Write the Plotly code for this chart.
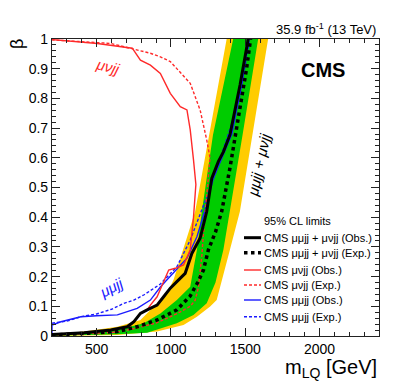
import plotly.graph_objects as go

# ---- data (m_LQ in GeV, beta) ----
yel_lo_m = [200, 416, 640, 795, 907, 974, 1018, 1083, 1163, 1193, 1258, 1375]
yel_lo_b = [0.006, 0.015, 0.031, 0.054, 0.110, 0.144, 0.189, 0.29, 0.419, 0.5, 0.677, 1.0]
yel_hi_m = [200, 640, 907, 1085, 1175, 1264, 1308, 1397, 1464, 1491, 1549, 1654]
yel_hi_b = [0.0, 0.003, 0.015, 0.037, 0.065, 0.099, 0.121, 0.29, 0.419, 0.5, 0.677, 1.0]

grn_lo_m = [200, 416, 640, 817, 929, 1040, 1130, 1175, 1208, 1231, 1283, 1419]
grn_lo_b = [0.004, 0.010, 0.020, 0.043, 0.076, 0.121, 0.166, 0.29, 0.419, 0.5, 0.677, 1.0]
grn_hi_m = [200, 640, 840, 1040, 1152, 1241, 1300, 1353, 1397, 1424, 1482, 1587]
grn_hi_b = [0.001, 0.006, 0.011, 0.043, 0.071, 0.110, 0.18, 0.29, 0.419, 0.5, 0.677, 1.0]

comb_exp_m = [200, 640, 773, 907, 1040, 1130, 1180, 1219, 1252, 1300, 1342, 1397, 1453, 1509, 1536]
comb_exp_b = [0.003, 0.015, 0.031, 0.054, 0.088, 0.135, 0.18, 0.222, 0.29, 0.35, 0.42, 0.565, 0.733, 0.90, 1.0]

comb_obs_m = [200, 416, 595, 706, 751, 795, 840, 907, 951, 996, 1040, 1096, 1141, 1197, 1241, 1275,
              1319, 1353, 1397, 1465, 1520]
comb_obs_b = [0.005, 0.011, 0.02, 0.031, 0.048, 0.076, 0.088, 0.104, 0.132, 0.161, 0.183, 0.211, 0.278,
              0.33, 0.419, 0.531, 0.587, 0.62, 0.677, 0.845, 1.0]

munu_obs_m = [200, 416, 595, 706, 751, 795, 840, 862, 907, 950, 985, 1029, 1085, 1130, 1152, 1168, 1160,
              1152, 1130, 1108, 1063, 996, 929, 862, 795, 740, 505, 200]
munu_obs_b = [0.005, 0.011, 0.02, 0.031, 0.048, 0.076, 0.088, 0.104, 0.132, 0.18, 0.222, 0.228, 0.239,
              0.29, 0.40, 0.51, 0.56, 0.593, 0.694, 0.761, 0.772, 0.817, 0.884, 0.912, 0.929, 0.969,
              0.985, 0.998]

munu_exp_m = [200, 640, 773, 907, 1040, 1130, 1163, 1186, 1197, 1208, 1219, 1241, 1258, 1263, 1241, 1197,
              1130, 1060, 996, 929, 862, 595, 200]
munu_exp_b = [0.003, 0.013, 0.027, 0.045, 0.075, 0.10, 0.12, 0.166, 0.22, 0.27, 0.346, 0.48, 0.56, 0.60,
              0.66, 0.76, 0.851, 0.89, 0.924, 0.94, 0.952, 0.985, 0.997]

mumu_obs_m = [200, 200, 260, 394, 500, 640, 773, 862, 929, 1040, 1108, 1175, 1230, 1285, 1360, 1410, 1475, 1525]
mumu_obs_b = [0.0, 0.037, 0.048, 0.065, 0.068, 0.071, 0.093, 0.121, 0.165, 0.225, 0.262, 0.334, 0.424,
              0.53, 0.62, 0.68, 0.845, 1.0]

mumu_exp_m = [200, 300, 394, 505, 600, 684, 751, 817, 929, 1040, 1130, 1197, 1250, 1300, 1400, 1460, 1530]
mumu_exp_b = [0.043, 0.05, 0.065, 0.075, 0.09, 0.110, 0.121, 0.138, 0.175, 0.233, 0.323, 0.407, 0.48,
              0.55, 0.70, 0.80, 1.0]

legend_labels = ["CMS μμjj + μνjj (Obs.)", "CMS μμjj + μνjj (Exp.)", "CMS μνjj (Obs.)",
                 "CMS μνjj (Exp.)", "CMS μμjj (Obs.)", "CMS μμjj (Exp.)"]

YELLOW = "#ffcc00"
GREEN = "#00cc00"
RED = "#ff2a2a"
BLUE = "#1a1aff"
FONT = "Liberation Sans, Arial, sans-serif"

fig = go.Figure()

# bands
fig.add_trace(go.Scatter(x=yel_lo_m + yel_hi_m[::-1], y=yel_lo_b + yel_hi_b[::-1], fill="toself",
                         fillcolor=YELLOW, line=dict(width=0), mode="lines", showlegend=False, hoverinfo="skip"))
fig.add_trace(go.Scatter(x=grn_lo_m + grn_hi_m[::-1], y=grn_lo_b + grn_hi_b[::-1], fill="toself",
                         fillcolor=GREEN, line=dict(width=0), mode="lines", showlegend=False, hoverinfo="skip"))

styles = [
    (mumu_exp_m, mumu_exp_b, BLUE, 1.4, "3px,2px"),
    (mumu_obs_m, mumu_obs_b, BLUE, 1.4, "solid"),
    (munu_exp_m, munu_exp_b, RED, 1.4, "3px,2px"),
    (munu_obs_m, munu_obs_b, RED, 1.4, "solid"),
    (comb_exp_m, comb_exp_b, "black", 3.5, "dot"),
    (comb_obs_m, comb_obs_b, "black", 3, "solid"),
]
for mx, by, c, w, d in styles:
    fig.add_trace(go.Scatter(x=mx, y=by, mode="lines", line=dict(color=c, width=w, dash=d),
                             showlegend=False, hoverinfo="skip"))

# page offset (browser body margin)
OFF = 8
W, H = 399 - OFF, 387 - OFF
# plot area in window pixels
L, R, T, B = 52, 379, 39, 336

def px(xp):
    return (xp - L) / (R - L)

def py(yp):
    return (B - yp) / (B - T)

rows = [237.7, 252.7, 270, 285, 300, 316.7]
leg_styles = [("black", 3, "solid"), ("black", 3.5, "dot"), (RED, 1.4, "solid"),
              (RED, 1.4, "3px,2px"), (BLUE, 1.4, "solid"), (BLUE, 1.4, "3px,2px")]
for r, lab, (c, w, d) in zip(rows, legend_labels, leg_styles):
    fig.add_shape(type="line", xref="paper", yref="paper", x0=px(244), x1=px(261), y0=py(r), y1=py(r),
                  line=dict(color=c, width=w, dash=d))
    fig.add_annotation(xref="paper", yref="paper", x=px(262), y=py(r), text=lab, showarrow=False,
                       xanchor="left", yanchor="middle", font=dict(family=FONT, size=11, color="black"))
fig.add_annotation(xref="paper", yref="paper", x=px(262), y=py(221), text="95% CL limits", showarrow=False,
                   xanchor="left", yanchor="middle", font=dict(family=FONT, size=11, color="black"))

# ---- text ----
fig.add_annotation(xref="paper", yref="paper", x=px(323), y=py(70), text="<b>CMS</b>", showarrow=False,
                   xanchor="center", yanchor="middle", font=dict(family=FONT, size=20, color="black"))
fig.add_annotation(xref="paper", yref="paper", x=px(378), y=py(29), text="35.9 fb<sup>-1</sup> (13 TeV)",
                   showarrow=False, xanchor="right", yanchor="middle",
                   font=dict(family=FONT, size=13, color="black"))
fig.add_annotation(xref="paper", yref="paper", x=px(379), y=py(368), text="m<sub>LQ</sub> [GeV]",
                   showarrow=False, xanchor="right", yanchor="middle",
                   font=dict(family=FONT, size=20, color="black"))
fig.add_annotation(xref="paper", yref="paper", x=px(17), y=py(44), text="β", textangle=-90,
                   showarrow=False, xanchor="center", yanchor="middle",
                   font=dict(family=FONT, size=18, color="black"))
fig.add_annotation(x=578, y=0.909, text="<i>μνjj</i>", textangle=15, showarrow=False,
                   font=dict(family=FONT, size=15, color=RED))
fig.add_annotation(x=599, y=0.162, text="<i>μμjj</i>", textangle=-28, showarrow=False,
                   font=dict(family=FONT, size=15, color=BLUE))
fig.add_annotation(x=1594, y=0.576, text="<i>μμjj + μνjj</i>", textangle=-78, showarrow=False,
                   font=dict(family=FONT, size=15, color="black"))

axis_common = dict(ticks="inside", mirror="ticks", showline=True, linecolor="#222", linewidth=1.2,
                   tickcolor="#222", ticklen=8, tickwidth=1, showgrid=False, zeroline=False,
                   automargin=False, tickfont=dict(family=FONT, size=14, color="black"))
fig.update_xaxes(range=[200, 2400], tick0=0, dtick=500,
                 minor=dict(ticks="inside", ticklen=4, dtick=100, tickcolor="#222", showgrid=False),
                 **axis_common)
fig.update_yaxes(range=[0, 1], tick0=0, dtick=0.1,
                 minor=dict(ticks="inside", ticklen=4, dtick=0.02, tickcolor="#222", showgrid=False),
                 **axis_common)

fig.update_layout(width=W, height=H,
                  margin=dict(l=L - OFF, r=W - (R - OFF), t=T - OFF, b=H - (B - OFF)),
                  plot_bgcolor="white", paper_bgcolor="white", showlegend=False,
                  font=dict(family=FONT, color="black"))

fig.write_html("out.html")
